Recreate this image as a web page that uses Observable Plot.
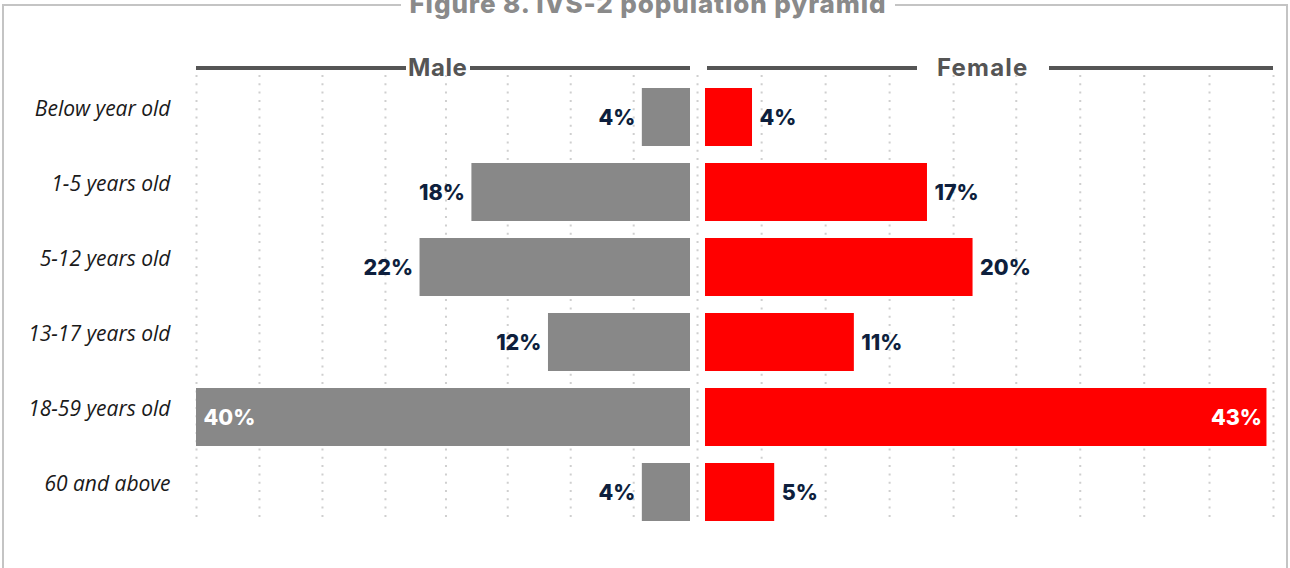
<!DOCTYPE html>
<html>
<head>
<meta charset="utf-8">
<script src="https://cdn.jsdelivr.net/npm/d3@7"></script>
<script src="https://cdn.jsdelivr.net/npm/@observablehq/plot@0.6"></script>
<style>
  html, body { margin: 0; padding: 0; background: #fff; }
  #root { position: relative; width: 1290px; height: 568px; overflow: hidden; background: #fff; }
  #frame { position: absolute; left: 2px; top: 4px; width: 1282px; height: 700px; border: 2px solid #c4c4c4; }
  #title { position: absolute; left: 0; width: 1296px; top: -9px; text-align: center; line-height: 26px; }
  #title span { background: #fff; padding: 0 9px; font-family: Inter, sans-serif; font-weight: 800; font-size: 26px; color: #8a8a8a; letter-spacing: 0.9px; }
  .hdr { position: absolute; top: 54px; height: 27px; display: flex; align-items: center; }
  .hdr .ln { height: 4px; background: #555; }
  .hdr .tx { font-family: Inter, sans-serif; font-weight: 700; font-size: 24px; color: #555; line-height: 27px; letter-spacing: 0.6px; }
  .plot { position: absolute; top: 0; }
</style>
</head>
<body>
<div id="root">
  <div id="frame"></div>
  <div id="title"><span>Figure 8. IVS-2 population pyramid</span></div>
  <div class="hdr" style="left:196px;width:494px;">
    <div class="ln" style="width:210px"></div>
    <div class="tx" style="padding:0 2px">Male</div>
    <div class="ln" style="flex:1"></div>
  </div>
  <div class="hdr" style="left:707px;width:566px;">
    <div class="ln" style="width:210px"></div>
    <div class="tx" style="padding:0 20px;letter-spacing:1.2px">Female</div>
    <div class="ln" style="flex:1"></div>
  </div>
  <div id="male" class="plot" style="left:0"></div>
  <div id="female" class="plot" style="left:690px"></div>
</div>
<script>
// ---- data ----
const ageGroups = ["Below year old", "1-5 years old", "5-12 years old", "13-17 years old", "18-59 years old", "60 and above"];
const maleShare = [3.9, 17.7, 21.9, 11.5, 40.0, 3.9];
const femaleShare = [3.6, 17.0, 20.49, 11.4, 43.0, 5.3];
const maleGridTicks = [40, 34.9, 29.8, 24.7, 19.8, 14.8, 9.7, 4.6];
const femaleGridTicks = [-0.61, 4.3, 9.2, 14.1, 19.0, 23.8, 28.7, 33.6, 38.6, 43.5];

const maleRows = ageGroups.map((age, i) => ({age, value: maleShare[i]}));
const femaleRows = ageGroups.map((age, i) => ({age, value: femaleShare[i]}));

const fmt = v => Math.round(v) + "%";
const labelFont = {fontFamily: "Inter, sans-serif", fontWeight: 800, fontSize: 21.5};
const yScale = {domain: ageGroups, range: [87, 522], paddingInner: 0.232, paddingOuter: 0, axis: null};
const gridStyle = {stroke: "#cfcfcf", strokeWidth: 2, strokeDasharray: "2,6.3"};
const inside = 30;

const male = Plot.plot({
  width: 690, height: 568,
  marginLeft: 196, marginRight: 0, marginTop: 75, marginBottom: 45,
  x: {domain: [0, 40], reverse: true, axis: null},
  y: yScale,
  marks: [
    Plot.ruleX(maleGridTicks, gridStyle),
    Plot.barX(maleRows, {x: "value", y: "age", fill: "#888888"}),
    Plot.text(maleRows.filter(d => d.value <= inside), {x: "value", y: "age", text: d => fmt(d.value), textAnchor: "end", dx: -7, dy: 1, fill: "#0e1f3d", ...labelFont}),
    Plot.text(maleRows.filter(d => d.value > inside), {x: "value", y: "age", text: d => fmt(d.value), textAnchor: "start", dx: 7, dy: 1, fill: "#ffffff", ...labelFont}),
    Plot.text(ageGroups, {y: d => d, text: d => d, frameAnchor: "left", textAnchor: "end", dx: -26, dy: -8, fill: "#1a1a1a", fontFamily: "'Open Sans', sans-serif", fontStyle: "italic", fontSize: 21})
  ]
});
document.getElementById("male").appendChild(male);

const female = Plot.plot({
  width: 600, height: 568,
  marginLeft: 15, marginRight: 17, marginTop: 75, marginBottom: 45,
  x: {domain: [0, 43.5], axis: null},
  y: yScale,
  marks: [
    Plot.ruleX(femaleGridTicks, gridStyle),
    Plot.barX(femaleRows, {x: "value", y: "age", fill: "#ff0000"}),
    Plot.text(femaleRows.filter(d => d.value <= inside), {x: "value", y: "age", text: d => fmt(d.value), textAnchor: "start", dx: 7, dy: 1, fill: "#0e1f3d", ...labelFont}),
    Plot.text(femaleRows.filter(d => d.value > inside), {x: "value", y: "age", text: d => fmt(d.value), textAnchor: "end", dx: -5, dy: 1, fill: "#ffffff", ...labelFont})
  ]
});
document.getElementById("female").appendChild(female);
</script>
</body>
</html>
